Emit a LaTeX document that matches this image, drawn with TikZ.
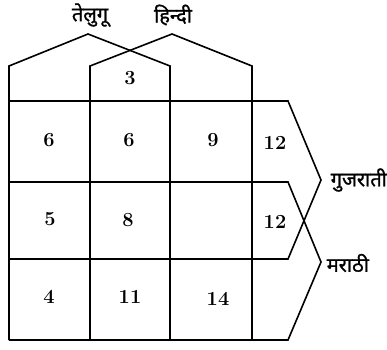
\documentclass[tikz,border=0pt]{standalone}
\usepackage{fontspec}
\usepackage{tikz}
\newfontfamily\hindi[Script=Devanagari, FakeBold=1.2]{Noto Sans}
\usetikzlibrary{positioning}

\begin{document}
\begin{tikzpicture}[x=1pt, y=-1pt, line width=1.6pt, line join=miter,
  num/.style={font=\fontsize{20}{24}\selectfont\bfseries, inner sep=0pt},
  lang/.style={font=\hindi\fontsize{20}{24}\selectfont, inner sep=0pt}]
  \useasboundingbox (0,0) rectangle (387,349);
  % roofs of the two top sets
  \draw (9,340) -- (9,66) -- (88,34) -- (170,66) -- (170,340);
  \draw (90,340) -- (90,66) -- (172,34) -- (252,66) -- (252,340);
  % the two right sets
  \draw (9,101) -- (288,101) -- (321,180) -- (288,259) -- (9,259);
  \draw (9,182) -- (288,182) -- (321,262) -- (288,340) -- (9,340);
  % labels
  \node[lang] (tel) at (90,15) {तेलुगू};
  \node[lang] (hin) at (173,15) {हिन्दी};
  \node[lang, anchor=west] (guj) at (330,180) {गुजराती};
  \node[lang, anchor=west] (mar) at (326,263) {मराठी};
  % counts
  \node[num] (c3) at (130,78) {3};
  \node[num] (a1) at (49,140) {6};
  \node[num] (a2) at (129,140) {6};
  \node[num] (a3) at (213,140) {9};
  \node[num] (a4) at (275,143) {12};
  \node[num] (b1) at (50,219) {5};
  \node[num] (b2) at (128,220) {8};
  \node[num] (b4) at (275,222) {12};
  \node[num] (d1) at (49,297) {4};
  \node[num] (d2) at (130,297) {11};
  \node[num] (d3) at (218,299) {14};
\end{tikzpicture}
\end{document}
